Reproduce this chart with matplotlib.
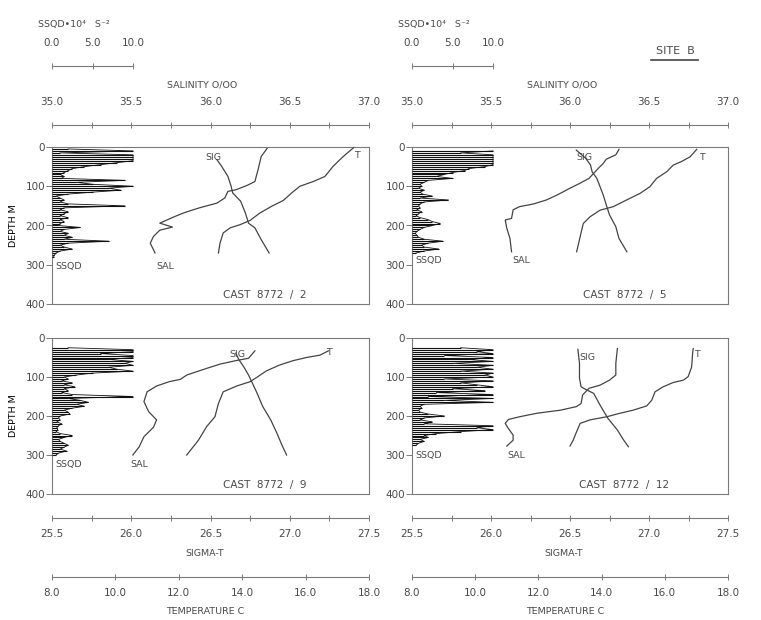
import matplotlib
matplotlib.use("Agg")
import matplotlib.pyplot as plt
import numpy as np
from matplotlib.ticker import MultipleLocator, FormatStrFormatter

# ---- data (site B, cruise 8772) ----
cast_names = ["CAST  8772  /  2", "CAST  8772  /  5", "CAST  8772  /  9", "CAST  8772  /  12"]

# SSQD (10^4 s^-2) in 5 m bins, 5..300 m
ssqd_depth = np.arange(5, 305, 5)
nan = np.nan
ssqd_2 = [2, 10, 1, 10, 10, 10, 10, 8, 6, 4,
          2.5, 2, 1.5, 1, 1.5, 1.2, 9, 3, 5, 10,
          7, 8.5, 5, 2, 0.5, 1, 1.5, 1, 2, 9,
          1.5, 1, 2, 1.5, 1, 2, 1, 1.5, 1, 0.8,
          3.5, 1.5, 1, 2, 1.5, 2.5, 1.5, 7, 2, 1,
          1.5, 2.5, 1, 0.5, 0.3, 0.2, nan, nan, nan, nan]
ssqd_5 = [nan, 10, 6, 10, 10, 10, 10, 10, 10, 9,
          7, 6.5, 5, 4, 3, 5, 2, 1.5, 1, 1.2,
          0.8, 1.5, 1, 1.3, 2.5, 1, 4.5, 1.5, 1, 0.8,
          1, 0.6, 1.2, 0.8, 0.5, 1, 2, 2.5, 3.5, 2.5,
          1.5, 1, 0.6, 0.4, 0.6, 0.8, 1.5, 3.8, 2, 1.2,
          1.5, 3.3, 1.5, 0.5, nan, nan, nan, nan, nan, nan]
ssqd_9 = [nan, nan, nan, nan, 2, 10, 10, 6, 10, 10,
          7, 10, 9, 10, 7, 8, 10, 5, 3, 1.5,
          2, 1.2, 2.5, 1.5, 2.8, 1.5, 2, 1.2, 2.5, 10,
          2, 3.5, 4.5, 3, 4, 2.5, 1.5, 2, 2.2, 1,
          0.8, 1, 0.6, 1.2, 0.8, 0.6, 0.7, 0.5, 1, 2.5,
          1.5, 0.8, 1, 1.5, 2, 1.5, 1, 1.8, 0.8, 0.5]
ssqd_12 = [nan, nan, nan, nan, 6, 10, 8, 10, 4, 10,
           7, 10, 5, 10, 8, 10, 6, 10, 9, 10,
           4, 10, 6, 8, 10, 5, 9, 3, 10, 2,
           10, 4, 10, 1.5, 1, 1.2, 0.8, 1, 2, 4,
           1.5, 1, 2.5, 1.5, 10, 8, 10, 6, 3, 1.5,
           2, 1, 1.5, 0.8, 0.5, nan, nan, nan, nan, nan]

# salinity (o/oo)
sal_depth_2 = [2, 24, 58, 88, 98, 109, 113, 130, 143, 155, 168, 178, 194, 204, 212, 228, 245, 270]
sal_2 = [36.36, 36.32, 36.30, 36.28, 36.23, 36.16, 36.11, 36.09, 36.04, 35.93, 35.83, 35.77,
         35.68, 35.76, 35.68, 35.64, 35.62, 35.65]
sal_depth_5 = [6, 20, 31, 42, 54, 67, 80, 93, 105, 122, 135, 145, 152, 160, 182, 186, 207, 233, 267]
sal_5 = [36.31, 36.29, 36.23, 36.21, 36.18, 36.15, 36.12, 36.06, 36.00, 35.92, 35.85, 35.77,
         35.68, 35.64, 35.63, 35.59, 35.60, 35.62, 35.63]
sal_depth_9 = [33, 52, 58, 67, 80, 95, 106, 112, 123, 138, 163, 189, 210, 229, 253, 279, 300]
sal_9 = [36.28, 36.24, 36.16, 36.06, 35.96, 35.85, 35.81, 35.74, 35.66, 35.60, 35.58, 35.61,
         35.66, 35.64, 35.58, 35.55, 35.51]
sal_depth_12 = [27, 65, 95, 108, 121, 129, 146, 168, 176, 185, 193, 202, 209, 219, 232, 249, 262, 277]
sal_12 = [36.30, 36.29, 36.29, 36.25, 36.19, 36.12, 36.08, 36.07, 36.04, 35.94, 35.79, 35.68,
          35.61, 35.59, 35.61, 35.64, 35.64, 35.60]

# sigma-t
sig_depth_2 = [32, 49, 75, 100, 117, 138, 168, 194, 206, 236, 270]
sig_2 = [26.54, 26.57, 26.61, 26.63, 26.64, 26.69, 26.72, 26.74, 26.78, 26.82, 26.87]
sig_depth_5 = [8, 29, 46, 63, 80, 101, 122, 148, 173, 203, 233, 267]
sig_5 = [26.54, 26.60, 26.63, 26.64, 26.67, 26.69, 26.71, 26.73, 26.75, 26.79, 26.81, 26.86]
sig_depth_9 = [39, 56, 74, 95, 112, 138, 176, 210, 245, 274, 300]
sig_9 = [26.66, 26.68, 26.71, 26.74, 26.76, 26.79, 26.83, 26.88, 26.92, 26.95, 26.98]
sig_depth_12 = [29, 65, 103, 125, 132, 142, 172, 206, 236, 262, 279]
sig_12 = [26.55, 26.56, 26.56, 26.57, 26.60, 26.65, 26.69, 26.74, 26.80, 26.84, 26.87]

# temperature (C)
t_depth_2 = [2, 24, 49, 75, 88, 100, 117, 136, 151, 168, 187, 198, 206, 219, 245, 270]
t_2 = [17.51, 17.19, 16.87, 16.61, 16.24, 15.82, 15.56, 15.30, 14.93, 14.56, 14.25, 13.93,
       13.62, 13.40, 13.30, 13.25]
t_depth_5 = [6, 25, 37, 46, 63, 80, 101, 118, 135, 152, 161, 178, 195, 229, 267]
t_5 = [17.01, 16.80, 16.53, 16.27, 16.06, 15.74, 15.53, 15.22, 14.79, 14.37, 13.95, 13.63,
       13.42, 13.32, 13.21]
t_depth_9 = [33, 44, 50, 58, 69, 84, 101, 112, 123, 138, 168, 202, 227, 262, 300]
t_9 = [16.72, 16.45, 16.03, 15.61, 15.19, 14.77, 14.46, 14.25, 13.83, 13.40, 13.25, 13.14,
       12.88, 12.62, 12.25]
t_depth_12 = [27, 39, 74, 99, 108, 114, 125, 138, 159, 174, 185, 193, 202, 210, 219, 240, 262, 277]
t_12 = [16.90, 16.88, 16.85, 16.74, 16.59, 16.27, 15.95, 15.69, 15.59, 15.43, 15.00, 14.58,
        14.16, 13.63, 13.32, 13.21, 13.10, 13.00]

casts = [
    (ssqd_2, sal_depth_2, sal_2, sig_depth_2, sig_2, t_depth_2, t_2),
    (ssqd_5, sal_depth_5, sal_5, sig_depth_5, sig_5, t_depth_5, t_5),
    (ssqd_9, sal_depth_9, sal_9, sig_depth_9, sig_9, t_depth_9, t_9),
    (ssqd_12, sal_depth_12, sal_12, sig_depth_12, sig_12, t_depth_12, t_12),
]

# ---- layout (pixels) ----
W, H = 761, 620
col_x = [52, 412]
col_w = [317, 316]
row_y = [147, 338]
row_h = [157, 156]
ssqd_w = 81  # length of the 0..10 SSQD scale

# label spots inside each panel (axes fraction): SIG, T, SAL, SSQD
label_pos = [
    [(0.508, 0.936), (0.962, 0.943), (0.356, 0.242), (0.01, 0.242)],
    [(0.547, 0.936), (0.918, 0.930), (0.345, 0.274), (0.01, 0.274)],
    [(0.584, 0.897), (0.874, 0.905), (0.274, 0.186), (0.01, 0.186)],
    [(0.554, 0.878), (0.902, 0.897), (0.329, 0.244), (0.01, 0.244)],
]

ink = "#444444"
txt = "#4a4a4a"
frame = "#7a7a7a"
plt.rcParams.update({
    "font.family": "DejaVu Sans", "font.size": 7, "text.color": txt,
    "axes.edgecolor": frame, "axes.linewidth": 0.8,
    "xtick.color": frame, "ytick.color": frame,
    "xtick.labelcolor": txt, "ytick.labelcolor": txt,
})

fig = plt.figure(figsize=(W / 100, H / 100), dpi=100)


def box(x, y, w, h):
    return [x / W, 1 - (y + h) / H, w / W, h / H]


def scale_axis(x, y, w, lim, major, minor, labels_on_top):
    a = fig.add_axes(box(x, y - 1, w, 1))
    a.set_xlim(*lim)
    a.set_yticks([])
    for s in ["top", "left", "right"]:
        a.spines[s].set_visible(False)
    a.xaxis.set_major_locator(MultipleLocator(major))
    if minor:
        a.xaxis.set_minor_locator(MultipleLocator(minor))
    a.xaxis.set_major_formatter(FormatStrFormatter("%.1f"))
    a.tick_params(axis="x", which="both", direction="inout", length=4, width=0.7,
                  top=False, bottom=True, labeltop=labels_on_top,
                  labelbottom=not labels_on_top, pad=10 if labels_on_top else 6,
                  labelsize=7.5)
    a.patch.set_alpha(0)
    return a


for c in range(2):
    x0, w = col_x[c], col_w[c]
    cx = x0 + w / 2
    # top scales
    scale_axis(x0, 66, ssqd_w, (0, 10), 5, None, True)
    fig.text((x0 - 14) / W, 1 - 25 / H, "SSQD\u202210\u2074   S\u207b\u00b2", fontsize=6.8, va="center")
    scale_axis(x0, 125, w, (35, 37), 0.5, 0.25, True)
    fig.text((cx - 8) / W, 1 - 85 / H, "SALINITY O/OO", ha="center", va="center", fontsize=6.8)
    # bottom scales
    scale_axis(x0, 518, w, (25.5, 27.5), 0.5, 0.25, False)
    fig.text((cx - 6) / W, 1 - 553 / H, "SIGMA-T", ha="center", va="center", fontsize=6.8)
    scale_axis(x0, 577, w, (8, 18), 2, None, False)
    fig.text((cx - 5) / W, 1 - 612 / H, "TEMPERATURE C", ha="center", va="center", fontsize=6.8)

fig.text(675 / W, 1 - 51 / H, "SITE  B", ha="center", va="center", fontsize=8)
fig.add_artist(plt.Line2D([651 / W, 698 / W], [1 - 60 / H] * 2, color=ink, lw=1.2))

for i, (ssqd, sd, sal, gd, sig, td, tt) in enumerate(casts):
    r, c = divmod(i, 2)
    ax = fig.add_axes(box(col_x[c], row_y[r], col_w[c], row_h[r]))
    ax.set_xlim(35, 37)
    ax.set_ylim(400, 0)
    ax.set_xticks([])
    ax.set_yticks([0, 100, 200, 300, 400])
    ax.tick_params(axis="y", direction="out", length=4, width=0.7, pad=1, labelsize=7.5)
    if c == 0:
        ax.set_ylabel("DEPTH M", fontsize=6.8, labelpad=5)

    ax.plot(sal, sd, color=ink, lw=0.9)

    ax_q = ax.twiny()
    ax_q.set_xlim(0, 10 * col_w[c] / ssqd_w)
    ax_q.axis("off")
    q = np.array(ssqd, dtype=float)
    ok = ~np.isnan(q)
    ax_q.hlines(ssqd_depth[ok], 0, q[ok], color="#111111", lw=0.8)
    ax_q.plot(q[ok], ssqd_depth[ok], color="#111111", lw=0.6)

    ax_g = ax.twiny()
    ax_g.set_xlim(25.5, 27.5)
    ax_g.axis("off")
    ax_g.plot(sig, gd, color=ink, lw=0.9)

    ax_t = ax.twiny()
    ax_t.set_xlim(8, 18)
    ax_t.axis("off")
    ax_t.plot(tt, td, color=ink, lw=0.9)

    p = label_pos[i]
    ax.text(*p[0], "SIG", transform=ax.transAxes, ha="center", va="center", fontsize=6.8)
    ax.text(*p[1], "T", transform=ax.transAxes, ha="center", va="center", fontsize=6.8)
    ax.text(*p[2], "SAL", transform=ax.transAxes, ha="center", va="center", fontsize=6.8)
    ax.text(*p[3], "SSQD", transform=ax.transAxes, ha="left", va="center", fontsize=6.8)
    ax.text(0.672, 0.06, cast_names[i], transform=ax.transAxes, ha="center", va="center", fontsize=7.5)

fig.savefig("out.png", dpi=100)
